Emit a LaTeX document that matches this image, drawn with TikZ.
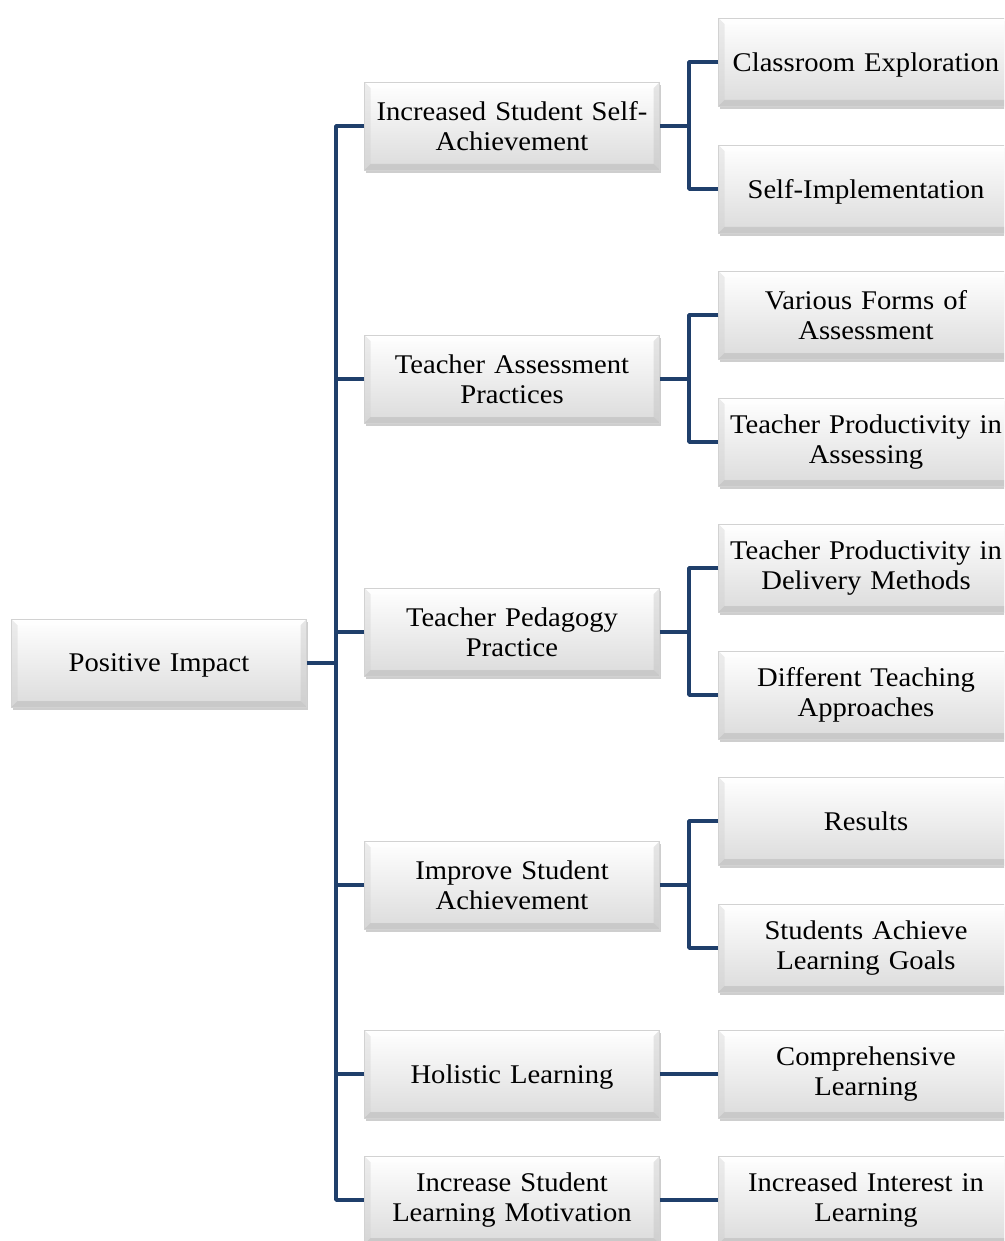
\documentclass[tikz,border=0pt]{standalone}
\usepackage{fontspec}
\setmainfont{Liberation Serif}[FakeStretch=1.06]
\usetikzlibrary{shadows,calc}
\definecolor{conncol}{HTML}{1F3F6B}
\begin{document}
\begin{tikzpicture}[x=1pt,y=-1pt,
  box/.style={rectangle, minimum width=295pt, minimum height=88pt, text width=285pt,
    align=center, inner sep=0pt, top color=white, bottom color=gray!28,
    draw=gray!35, line width=0.5pt,
    drop shadow={shadow xshift=1.5pt, shadow yshift=-3pt, opacity=0.45, fill=gray!85},
    font=\fontsize{27}{30}\selectfont,
    path picture={
      \coordinate (nw) at (path picture bounding box.north west);
      \coordinate (ne) at (path picture bounding box.north east);
      \coordinate (sw) at (path picture bounding box.south west);
      \coordinate (se) at (path picture bounding box.south east);
      \fill[gray!40, opacity=0.35] (nw) -- ($(nw)+(6pt,-6pt)$) -- ($(sw)+(6pt,6pt)$) -- (sw) -- cycle;
      \fill[gray!55, opacity=0.35] (ne) -- ($(ne)+(-6pt,-6pt)$) -- ($(se)+(-6pt,6pt)$) -- (se) -- cycle;
      \fill[gray!70, opacity=0.35] (sw) -- ($(sw)+(6pt,6pt)$) -- ($(se)+(-6pt,6pt)$) -- (se) -- cycle;
      \fill[white, opacity=0.6] (nw) -- ($(nw)+(6pt,-6pt)$) -- ($(ne)+(-6pt,-6pt)$) -- (ne) -- cycle;
    }},
  oneline/.style={box, text depth=0pt},
  conn/.style={draw=conncol, line width=3.5pt, line join=round, line cap=butt}]
\useasboundingbox (0,0) rectangle (1004,1241);
\clip (0,0) rectangle (1004,1241);
% root
\node[oneline] (root) at (159,663) {Positive Impact};
% level 2
\node[box] (a) at (512,126) {Increased Student Self-\\Achievement};
\node[box] (b) at (512,379) {Teacher Assessment\\Practices};
\node[box] (c) at (512,632) {Teacher Pedagogy\\Practice};
\node[box] (d) at (512,885) {Improve Student\\Achievement};
\node[oneline] (e) at (512,1074) {Holistic Learning};
\node[box] (f) at (512,1200) {Increase Student\\Learning Motivation};
% level 3
\node[oneline] (a1) at (866,62) {Classroom Exploration};
\node[oneline] (a2) at (866,189) {Self-Implementation};
\node[box] (b1) at (866,315) {Various Forms of\\Assessment};
\node[box] (b2) at (866,442) {Teacher Productivity in\\Assessing};
\node[box] (c1) at (866,568) {Teacher Productivity in\\Delivery Methods};
\node[box] (c2) at (866,695) {Different Teaching\\Approaches};
\node[oneline] (d1) at (866,821) {Results};
\node[box] (d2) at (866,948) {Students Achieve\\Learning Goals};
\node[box] (e1) at (866,1074) {Comprehensive\\Learning};
\node[box] (f1) at (866,1200) {Increased Interest in\\Learning};
% trunk
\coordinate (tx) at (336,0);
\draw[conn] (a.west) -- (a.west -| tx) -- (f.west -| tx) -- (f.west);
\draw[conn] (root.east) -- (root.east -| tx);
\foreach \n in {b,c,d,e}{\draw[conn] (\n.west) -- (\n.west -| tx);}
% level 2 -> 3
\foreach \p in {a,b,c,d}{
  \coordinate (\p m) at ($(\p.east)!0.5!(\p.east -| \p1.west)$);
  \draw[conn] (\p.east) -- (\p m);
  \draw[conn] (\p1.west) -- (\p1.west -| \p m) -- (\p2.west -| \p m) -- (\p2.west);
}
\draw[conn] (e.east) -- (e1.west);
\draw[conn] (f.east) -- (f1.west);
\end{tikzpicture}
\end{document}
